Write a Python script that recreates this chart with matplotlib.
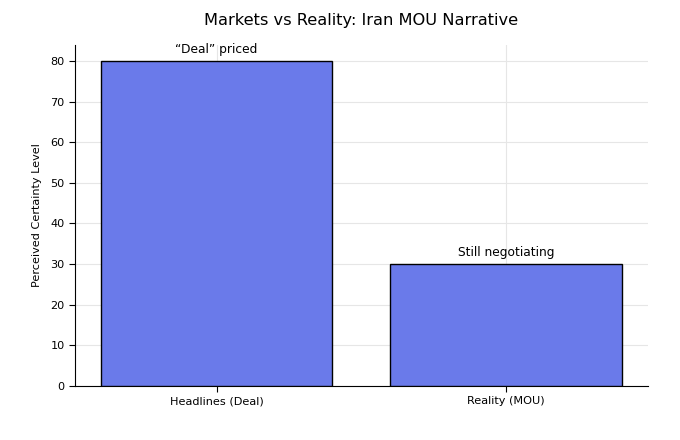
import matplotlib.pyplot as plt

categorias = ["Headlines (Deal)", "Reality (MOU)"]
valores = [80, 30]
rotulos = ["\u201cDeal\u201d priced", "Still negotiating"]

fig, ax = plt.subplots(figsize=(6.8, 4.4), dpi=100)
fig.subplots_adjust(left=0.110, right=0.953, top=0.898, bottom=0.123)

ax.bar(categorias, valores, color="#6a7aea", edgecolor="black", linewidth=1, zorder=3)

for i, (v, r) in enumerate(zip(valores, rotulos)):
    ax.text(i, v + 1.2, r, ha="center", va="bottom", fontsize=8.8)

ax.set_title("Markets vs Reality: Iran MOU Narrative", fontsize=11.7, pad=14.5)
ax.set_ylabel("Perceived Certainty Level", fontsize=8.1, labelpad=6)
ax.tick_params(labelsize=8.1, length=4.3, pad=3)
ax.grid(True, color="#e6e6e6", linewidth=0.8, zorder=0)
ax.spines["top"].set_visible(False)
ax.spines["right"].set_visible(False)

plt.savefig("out.png", dpi=100)
